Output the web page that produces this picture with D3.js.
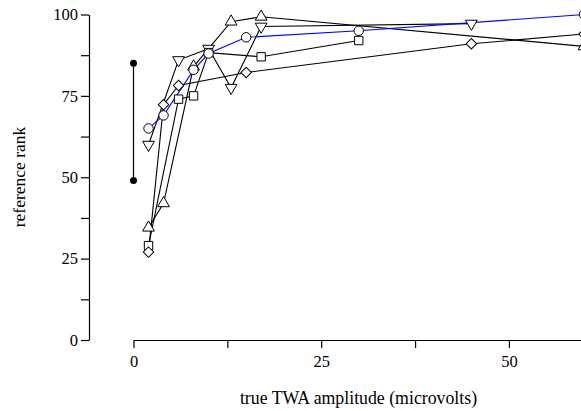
<!DOCTYPE html>
<html><head><meta charset="utf-8">
<script src="https://cdn.jsdelivr.net/npm/d3@7"></script>
<style>
html,body{margin:0;padding:0;background:#fff;overflow:hidden;}
text{font-family:"Liberation Serif","Times New Roman",serif;}
</style></head>
<body>
<svg id="c" width="581" height="411"></svg>
<script>
// Data
const rangeX = 0;
const rangeLow = 49;
const rangeHigh = 85;

const circleX = [2, 4, 8, 10, 15, 30, 60];
const circleY = [65, 69, 83, 88, 93, 95, 100];

const downX = [2, 6, 10, 13, 17, 45];
const downY = [60, 86, 89.5, 77.5, 96.3, 97.2];

const upX = [2, 4, 8, 13, 17, 60];
const upY = [34.5, 42, 84, 97.8, 99.3, 90.2];

const squareX = [2, 6, 8, 10, 17, 30];
const squareY = [29, 74, 75, 88.3, 87, 92];

const diamondX = [2, 4, 6, 15, 45, 60];
const diamondY = [27, 72.3, 78.2, 82.2, 91, 94];

const xTicks = [0, 12.5, 25, 37.5, 50];
const yTicks = [0, 12.5, 25, 37.5, 50, 62.5, 75, 87.5, 100];

const svg = d3.select("#c");
const x = d3.scaleLinear().domain([0, 60]).range([133.5, 584]);
const y = d3.scaleLinear().domain([0, 100]).range([340, 14.5]);

// axes
const fmt = v => (v % 25 === 0 ? String(v) : "");
const yAxis = d3.axisLeft(y).tickValues(yTicks).tickFormat(fmt).tickSize(8).tickSizeOuter(0).tickPadding(3);
const gy = svg.append("g").attr("transform", "translate(89,0)").call(yAxis);
const xAxis = d3.axisBottom(x).tickValues(xTicks).tickFormat(fmt).tickSize(8).tickSizeOuter(0).tickPadding(7);
const gx = svg.append("g").attr("transform", "translate(0,340)").call(xAxis);
[gx, gy].forEach(g => {
  g.selectAll("path,line").attr("stroke", "#000").attr("stroke-width", 1.2);
  g.selectAll("text").attr("font-size", 16.5).attr("fill", "#000").attr("font-family", "Liberation Serif, serif");
});

svg.append("text").attr("x", 358.5).attr("y", 404).attr("text-anchor", "middle")
  .attr("font-size", 17.8).text("true TWA amplitude (microvolts)");
svg.append("text").attr("transform", "translate(25,177) rotate(-90)").attr("text-anchor", "middle")
  .attr("font-size", 17.5).text("reference rank");

// range bar
svg.append("line").attr("x1", x(rangeX)).attr("x2", x(rangeX)).attr("y1", y(rangeLow)).attr("y2", y(rangeHigh))
  .attr("stroke", "#000").attr("stroke-width", 1.2);
[rangeLow, rangeHigh].forEach(v => svg.append("circle").attr("cx", x(rangeX)).attr("cy", y(v)).attr("r", 3.5).attr("fill", "#000"));

const series = [
  {xs: downX, ys: downY, sym: d3.symbolTriangle, rot: 180, color: "#000", size: 60},
  {xs: upX, ys: upY, sym: d3.symbolTriangle, rot: 0, color: "#000", size: 60},
  {xs: squareX, ys: squareY, sym: d3.symbolSquare, rot: 0, color: "#000", size: 70},
  {xs: diamondX, ys: diamondY, sym: d3.symbolSquare, rot: 45, color: "#000", size: 55},
  {xs: circleX, ys: circleY, sym: d3.symbolCircle, rot: 0, color: "#0000ff", size: 70},
];
const line = d3.line().x(d => x(d[0])).y(d => y(d[1]));
series.forEach(s => {
  const pts = s.xs.map((v, i) => [v, s.ys[i]]);
  svg.append("path").attr("d", line(pts)).attr("fill", "none").attr("stroke", s.color).attr("stroke-width", 1.1);
});
series.forEach(s => {
  const pts = s.xs.map((v, i) => [v, s.ys[i]]);
  const sym = d3.symbol().type(s.sym).size(s.size);
  svg.append("g").selectAll("path").data(pts).join("path")
    .attr("d", sym)
    .attr("transform", d => `translate(${x(d[0])},${y(d[1])}) rotate(${s.rot})`)
    .attr("fill", "#fff").attr("stroke", "#000").attr("stroke-width", 1);
});
</script>
</body></html>
